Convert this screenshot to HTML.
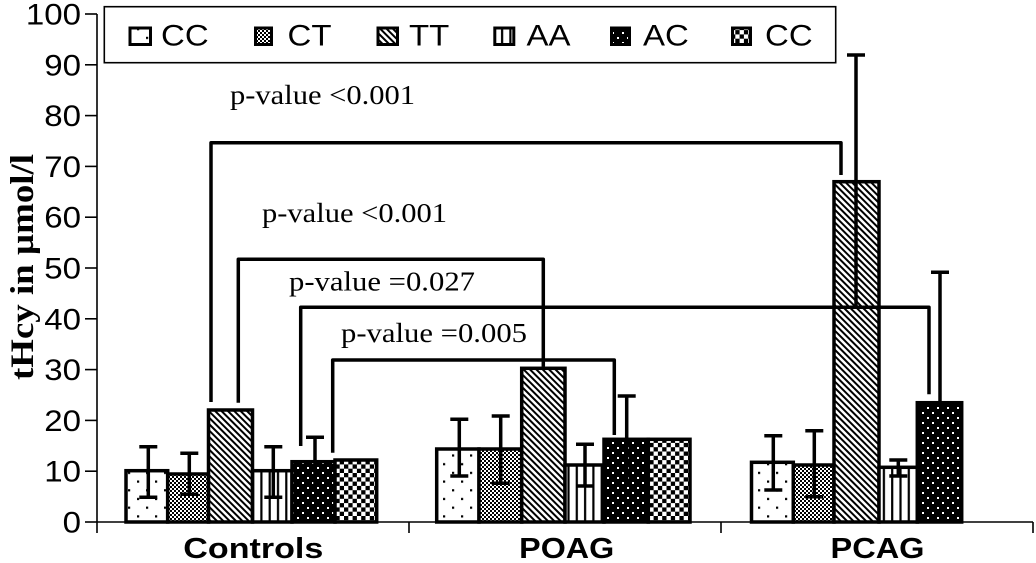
<!DOCTYPE html>
<html><head><meta charset="utf-8">
<style>
html,body{margin:0;padding:0;background:#fff;}
svg{display:block;}
</style></head>
<body>
<svg width="1036" height="563" viewBox="0 0 1036 563" xmlns="http://www.w3.org/2000/svg">
<defs>
  <pattern id="pCC" patternUnits="userSpaceOnUse" width="18" height="17.4">
    <rect width="18" height="17.4" fill="#fff"/>
    <rect x="2" y="2" width="2.2" height="2.2" fill="#000"/>
    <rect x="11" y="10.7" width="2.2" height="2.2" fill="#000"/>
  </pattern>
  <pattern id="pCT" patternUnits="userSpaceOnUse" width="4" height="4">
    <rect width="4" height="4" fill="#fff"/>
    <rect x="0" y="0" width="2" height="2" fill="#000"/>
    <rect x="2" y="2" width="2" height="2" fill="#000"/>
  </pattern>
  <pattern id="pTT" patternUnits="userSpaceOnUse" width="4.5" height="10" patternTransform="rotate(-45)">
    <rect width="4.5" height="10" fill="#fff"/>
    <rect x="0" y="0" width="2" height="10" fill="#000"/>
  </pattern>
  <pattern id="pAA" patternUnits="userSpaceOnUse" width="8.3" height="10">
    <rect width="8.3" height="10" fill="#fff"/>
    <rect x="3" y="0" width="2.2" height="10" fill="#000"/>
  </pattern>
  <pattern id="pAC" patternUnits="userSpaceOnUse" width="10" height="10">
    <rect width="10" height="10" fill="#000"/>
    <rect x="2" y="2" width="2" height="2" fill="#fff"/>
    <rect x="7" y="7" width="2" height="2" fill="#fff"/>
  </pattern>
  <pattern id="pCK" patternUnits="userSpaceOnUse" width="8.6" height="8.6">
    <rect width="8.6" height="8.6" fill="#fff"/>
    <rect x="0" y="0" width="4.3" height="4.3" fill="#000"/>
    <rect x="4.3" y="4.3" width="4.3" height="4.3" fill="#000"/>
  </pattern>
</defs>

<rect width="1036" height="563" fill="#fff"/>

<!-- Axes -->
<g stroke="#000" stroke-width="1.6" fill="none">
  <line x1="97" y1="14" x2="97" y2="533"/>
  <line x1="97" y1="522" x2="1033" y2="522"/>
  <line x1="409" y1="522" x2="409" y2="533"/>
  <line x1="721" y1="522" x2="721" y2="533"/>
  <line x1="1033" y1="522" x2="1033" y2="533"/>
  <!-- y ticks -->
  <line x1="85" y1="14" x2="97" y2="14"/>
  <line x1="85" y1="64.8" x2="97" y2="64.8"/>
  <line x1="85" y1="115.6" x2="97" y2="115.6"/>
  <line x1="85" y1="166.4" x2="97" y2="166.4"/>
  <line x1="85" y1="217.2" x2="97" y2="217.2"/>
  <line x1="85" y1="268" x2="97" y2="268"/>
  <line x1="85" y1="318.8" x2="97" y2="318.8"/>
  <line x1="85" y1="369.6" x2="97" y2="369.6"/>
  <line x1="85" y1="420.4" x2="97" y2="420.4"/>
  <line x1="85" y1="471.2" x2="97" y2="471.2"/>
  <line x1="85" y1="522" x2="97" y2="522"/>
</g>

<!-- Y tick labels -->
<g font-family="Liberation Sans, Arial, sans-serif" font-size="29.5" fill="#000" text-anchor="end">
  <g transform="translate(81,24.5) scale(1.12,1)"><text>100</text></g>
  <g transform="translate(81,75.3) scale(1.12,1)"><text>90</text></g>
  <g transform="translate(81,126.1) scale(1.12,1)"><text>80</text></g>
  <g transform="translate(81,176.9) scale(1.12,1)"><text>70</text></g>
  <g transform="translate(81,227.7) scale(1.12,1)"><text>60</text></g>
  <g transform="translate(81,278.5) scale(1.12,1)"><text>50</text></g>
  <g transform="translate(81,329.3) scale(1.12,1)"><text>40</text></g>
  <g transform="translate(81,380.1) scale(1.12,1)"><text>30</text></g>
  <g transform="translate(81,430.9) scale(1.12,1)"><text>20</text></g>
  <g transform="translate(81,481.7) scale(1.12,1)"><text>10</text></g>
  <g transform="translate(81,532.5) scale(1.12,1)"><text>0</text></g>
</g>

<!-- Y axis title -->
<text transform="translate(33,267) rotate(-90)" text-anchor="middle" font-family="Liberation Serif, 'Times New Roman', serif" font-weight="bold" font-size="33" textLength="226" lengthAdjust="spacingAndGlyphs">tHcy in µmol/l</text>

<!-- Bars -->
<g stroke="#000" stroke-width="3.5">
  <!-- Controls -->
  <rect x="126" y="470.7" width="41.7" height="51.3" fill="url(#pCC)"/>
  <rect x="167.7" y="474" width="40.8" height="48" fill="url(#pCT)"/>
  <rect x="208.5" y="410" width="44" height="112" fill="url(#pTT)"/>
  <rect x="252.5" y="470.7" width="39.5" height="51.3" fill="url(#pAA)"/>
  <rect x="292" y="461.7" width="43" height="60.3" fill="url(#pAC)"/>
  <rect x="335" y="460" width="41.7" height="62" fill="url(#pCK)"/>
  <!-- POAG -->
  <rect x="436.7" y="449" width="42.3" height="73" fill="url(#pCC)"/>
  <rect x="479" y="449" width="42.7" height="73" fill="url(#pCT)"/>
  <rect x="521.7" y="368.3" width="43.3" height="153.7" fill="url(#pTT)"/>
  <rect x="565" y="465" width="39" height="57" fill="url(#pAA)"/>
  <rect x="604" y="439.3" width="44.3" height="82.7" fill="url(#pAC)"/>
  <rect x="648.3" y="439.3" width="41.7" height="82.7" fill="url(#pCK)"/>
  <!-- PCAG -->
  <rect x="751.5" y="462.3" width="41.8" height="59.7" fill="url(#pCC)"/>
  <rect x="793.3" y="465" width="40.7" height="57" fill="url(#pCT)"/>
  <rect x="834" y="181.7" width="45" height="340.3" fill="url(#pTT)"/>
  <rect x="879" y="467.3" width="38.3" height="54.7" fill="url(#pAA)"/>
  <rect x="917.3" y="402.7" width="44.4" height="119.3" fill="url(#pAC)"/>
</g>

<!-- Error bars -->
<g stroke="#000" stroke-width="3.5" fill="none">
  <path d="M148.3,446.7 V497.3 M139.3,446.7 H157.3 M139.3,497.3 H157.3"/>
  <path d="M189.3,453.3 V494.3 M180.3,453.3 H198.3 M180.3,494.3 H198.3"/>
  <path d="M273.3,446.7 V497.3 M264.3,446.7 H282.3 M264.3,497.3 H282.3"/>
  <path d="M315,437.3 V486 M306,437.3 H324"/>

  <path d="M459.3,419.3 V476 M450.3,419.3 H468.3 M450.3,476 H468.3"/>
  <path d="M500.7,416 V483.3 M491.7,416 H509.7 M491.7,483.3 H509.7"/>
  <path d="M585,444.3 V486 M576,444.3 H594 M576,486 H594"/>
  <path d="M626.7,396 V483 M617.7,396 H635.7"/>

  <path d="M773.3,435.7 V490 M764.3,435.7 H782.3 M764.3,490 H782.3"/>
  <path d="M814.3,430.7 V496.7 M805.3,430.7 H823.3 M805.3,496.7 H823.3"/>
  <path d="M856,55 V307 M847,55 H865"/>
  <path d="M898.3,460 V476 M889.3,460 H907.3 M889.3,476 H907.3"/>
  <path d="M940,272.3 V402.7 M931,272.3 H949"/>
</g>

<!-- Significance brackets -->
<g stroke="#000" stroke-width="3.5" fill="none" stroke-linejoin="round">
  <path d="M211,402 V142.7 H841 V175"/>
  <path d="M238.3,402.7 V259.3 H543.3 V366.7"/>
  <path d="M300.7,446 V307.3 H929 V394.3"/>
  <path d="M332.7,452.7 V360 H614.3 V435"/>
</g>

<!-- p-value labels -->
<g font-family="Liberation Serif, 'Times New Roman', serif" font-size="27.5" fill="#000">
  <text x="230" y="104" textLength="185" lengthAdjust="spacingAndGlyphs">p-value &lt;0.001</text>
  <text x="262" y="222" textLength="185" lengthAdjust="spacingAndGlyphs">p-value &lt;0.001</text>
  <text x="289" y="290.5" textLength="186" lengthAdjust="spacingAndGlyphs">p-value =0.027</text>
  <text x="341" y="342" textLength="186" lengthAdjust="spacingAndGlyphs">p-value =0.005</text>
</g>

<!-- X category labels -->
<g font-family="Liberation Sans, Arial, sans-serif" font-weight="bold" font-size="29" fill="#000" text-anchor="middle">
  <text x="253.3" y="558" textLength="140" lengthAdjust="spacingAndGlyphs">Controls</text>
  <text x="566.7" y="558" textLength="95" lengthAdjust="spacingAndGlyphs">POAG</text>
  <text x="877.5" y="558" textLength="94" lengthAdjust="spacingAndGlyphs">PCAG</text>
</g>

<!-- Legend -->
<rect x="104.3" y="6.7" width="731.4" height="56" fill="#fff" stroke="#000" stroke-width="1.6"/>
<g stroke="#000" stroke-width="3">
  <rect x="130" y="28" width="20.5" height="16.5" fill="url(#pCC)"/>
  <rect x="255.5" y="28" width="16" height="16.5" fill="url(#pCT)"/>
  <rect x="378" y="28" width="19.5" height="16.5" fill="url(#pTT)"/>
  <rect x="494.8" y="28" width="19" height="16.5" fill="url(#pAA)"/>
  <rect x="611.5" y="28" width="18" height="16.5" fill="url(#pAC)"/>
  <rect x="732.5" y="28" width="18" height="16.5" fill="url(#pCK)"/>
</g>
<g font-family="Liberation Sans, Arial, sans-serif" font-size="30" fill="#000">
  <g transform="translate(161,45.5) scale(1.1,1)"><text>CC</text></g>
  <g transform="translate(287.5,45.5) scale(1.1,1)"><text>CT</text></g>
  <g transform="translate(409,45.5) scale(1.1,1)"><text>TT</text></g>
  <g transform="translate(526.5,45.5) scale(1.1,1)"><text>AA</text></g>
  <g transform="translate(643,45.5) scale(1.1,1)"><text>AC</text></g>
  <g transform="translate(765,45.5) scale(1.1,1)"><text>CC</text></g>
</g>
</svg>
</body></html>
